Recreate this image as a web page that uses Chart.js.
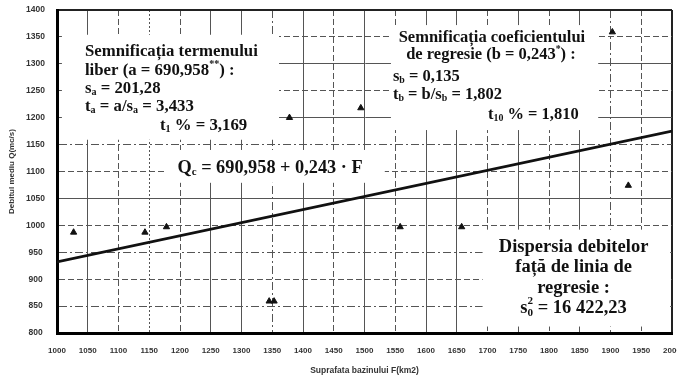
<!DOCTYPE html>
<html>
<head>
<meta charset="utf-8">
<script src="https://cdn.jsdelivr.net/npm/chart.js@4/dist/chart.umd.min.js"></script>
<style>
html,body{margin:0;padding:0;background:#fff;overflow:hidden;}
#wrap{width:677px;height:376px;position:relative;}
</style>
</head>
<body>
<div id="wrap"><canvas id="c" width="677" height="376"></canvas></div>
<script>
// ---- data ----
const surfaceF = [1027, 1143, 1178, 1345, 1353, 1378, 1494, 1558, 1658, 1903, 1929];
const debitQ   = [987,  987,  997,  859,  859,  1200, 1218, 997,  997,  1359, 1074];
const regressionF = [1000, 2000];
const regressionQ = [932, 1175];
const xTickLabels = ['1000','1050','1100','1150','1200','1250','1300','1350','1400','1450','1500','1550','1600','1650','1700','1750','1800','1850','1900','1950','2000'];
const yTickLabels = ['800','850','900','950','1000','1050','1100','1150','1200','1250','1300','1350','1400'];

// ---- styles ----
const DASH = {solid: [], dash: [6,3], dashdot: [8,3,2,3], dot: [2,2]};
const xGridStyle = ['solid','solid','dash','dot','dash','solid','solid','dashdot','solid','dash','solid','dash','solid','solid','dash','solid','dash','solid','dashdot','dash','solid'];
const yGridStyle = ['solid','dashdot','dash','dashdot','dash','solid','dash','dashdot','solid','dash','solid','dash','solid'];

const SERIF = '"Liberation Serif", "Times New Roman", serif';

// annotation boxes (layout): rect in data units, text offsets in px from box top-left
const boxes = [
  {f0:1008, f1:1361, q0:1354, q1:1159, size:16.8, lines:[
    {x:23, y:17, segs:[['Semnificația termenului']]},
    {x:23, y:36, segs:[['liber (a = 690,958'],['**','sup'],[') :']]},
    {x:23, y:54, segs:[['s'],['a','sub'],[' = 201,28']]},
    {x:23, y:72, segs:[['t'],['a','sub'],[' = a/s'],['a','sub'],[' = 3,433']]},
    {x:98, y:91, segs:[['t'],['1','sub'],[' % = 3,169']]}
  ]},
  {f0:1543, f1:1880, q0:1372, q1:1177, size:16.5, lines:[
    {x:101, y:13, align:'center', segs:[['Semnificația coeficientului']]},
    {x:100, y:30, align:'center', segs:[['de regresie (b = 0,243'],['*','sup'],[') :']]},
    {x:2, y:52, segs:[['s'],['b','sub'],[' = 0,135']]},
    {x:2, y:70, segs:[['t'],['b','sub'],[' = b/s'],['b','sub'],[' = 1,802']]},
    {x:97, y:90, segs:[['t'],['10','sub'],[' % = 1,810']]}
  ]},
  {f0:1178, f1:1533, q0:1140, q1:1079, size:18.3, lines:[
    {x:11, y:18, segs:[['Q'],['c','sub'],[' = 690,958 + 0,243 · F']]}
  ]},
  {f0:1692, f1:1997, q0:992, q1:812, size:18.5, lines:[
    {x:91, y:18, align:'center', segs:[['Dispersia debitelor']]},
    {x:91, y:38, align:'center', segs:[['față de linia de']]},
    {x:91, y:59, align:'center', segs:[['regresie :']]},
    {x:91, y:79, align:'center', segs:[['s'],['0','sub'],['2','supover'],[' = 16 422,23']]}
  ]}
];

function drawRich(ctx, segs, x, y, size, align){
  const parts = segs.map(([t,m]) => {
    const fs = m ? size*0.6 : size;
    ctx.font = 'bold ' + fs + 'px ' + SERIF;
    return {t, m, fs, w: ctx.measureText(t).width};
  });
  let total = 0;
  parts.forEach((p,i) => { if (p.m === 'supover') { const prev = parts[i-1]; p.back = prev.w; total += Math.max(0, p.w - prev.w); } else total += p.w; });
  let cx = align === 'center' ? x - total/2 : x;
  ctx.fillStyle = '#111';
  ctx.textBaseline = 'middle';
  ctx.textAlign = 'left';
  parts.forEach(p => {
    ctx.font = 'bold ' + p.fs + 'px ' + SERIF;
    let dy = 0, px = cx;
    if (p.m === 'sub') dy = size*0.22;
    if (p.m === 'sup') dy = -size*0.35;
    if (p.m === 'supover') { dy = -size*0.38; px = cx - p.back; }
    ctx.fillText(p.t, px, y + dy);
    if (p.m === 'supover') cx = px + Math.max(p.w, p.back); else cx += p.w;
  });
}

const boxPlugin = {
  id: 'boxes',
  beforeDatasetsDraw(chart){
    const {ctx, scales:{x, y}} = chart;
    ctx.save();
    boxes.forEach(b => {
      const l = x.getPixelForValue(b.f0), r = x.getPixelForValue(b.f1);
      const t = y.getPixelForValue(b.q0), bt = y.getPixelForValue(b.q1);
      ctx.fillStyle = '#fff';
      ctx.fillRect(l, t, r - l, bt - t);
      b.lines.forEach(ln => drawRich(ctx, ln.segs, l + ln.x, t + ln.y, b.size, ln.align));
    });
    ctx.restore();
  }
};

new Chart(document.getElementById('c'), {
  type: 'scatter',
  data: {
    datasets: [
      {
        label: 'Date',
        data: surfaceF.map((f,i) => ({x: f, y: debitQ[i]})),
        pointStyle: 'triangle',
        pointRadius: 3.6,
        backgroundColor: '#111',
        borderColor: '#111',
        borderWidth: 1
      },
      {
        label: 'Regresie',
        data: regressionF.map((f,i) => ({x: f, y: regressionQ[i]})),
        showLine: true,
        pointRadius: 0,
        borderColor: '#111',
        borderWidth: 2.8,
        fill: false
      }
    ]
  },
  options: {
    responsive: false,
    animation: false,
    layout: {padding: {top: 10, right: 3, left: 0, bottom: 0}},
    plugins: {legend: {display: false}, tooltip: {enabled: false}},
    scales: {
      x: {
        type: 'linear',
        min: 1000, max: 2000,
        afterBuildTicks: s => { s.ticks = xTickLabels.map(v => ({value: +v})); },
        afterFit: s => { s.height = 43; s.paddingRight = 0; s.paddingLeft = 0; s.paddingTop = 0; s.paddingBottom = 0; },
        ticks: {
          autoSkip: false, maxRotation: 0, padding: 13,
          color: '#333', font: {family: '"Liberation Sans", Arial, sans-serif', size: 8, weight: 'bold'},
          callback: (v, i) => xTickLabels[i]
        },
        grid: {
          drawTicks: false,
          color: ctx => ctx.index === xTickLabels.length - 1 ? '#222' : '#555',
          lineWidth: ctx => ctx.index === xTickLabels.length - 1 ? 2 : 1
        },
        border: {
          display: true, color: '#000', width: 3,
          dash: ctx => DASH[xGridStyle[ctx.index]] || []
        },
        title: {
          display: true, text: 'Suprafata bazinului F(km2)',
          color: '#333', font: {family: '"Liberation Sans", Arial, sans-serif', size: 8.5, weight: 'bold'},
          padding: {top: 3, bottom: 0}
        }
      },
      y: {
        type: 'linear',
        min: 800, max: 1400,
        afterBuildTicks: s => { s.ticks = yTickLabels.map(v => ({value: +v})); },
        afterFit: s => { s.width = 57; s.paddingTop = 0; s.paddingBottom = 0; s.paddingLeft = 0; s.paddingRight = 0; },
        ticks: {
          padding: 12, crossAlign: 'center', color: '#333',
          font: {family: '"Liberation Sans", Arial, sans-serif', size: 8.5, weight: 'bold'},
          callback: (v, i) => yTickLabels[i]
        },
        grid: {
          drawTicks: false,
          color: ctx => ctx.index === yTickLabels.length - 1 ? '#222' : '#555',
          lineWidth: ctx => ctx.index === yTickLabels.length - 1 ? 2 : 1
        },
        border: {
          display: true, color: '#000', width: 3,
          dash: ctx => DASH[yGridStyle[ctx.index]] || []
        },
        title: {
          display: true, text: 'Debitul mediu Q(mc/s)',
          color: '#333', font: {family: '"Liberation Sans", Arial, sans-serif', size: 8, weight: 'bold'},
          padding: {top: 7, bottom: 0}
        }
      }
    }
  },
  plugins: [boxPlugin]
});
</script>
</body>
</html>
